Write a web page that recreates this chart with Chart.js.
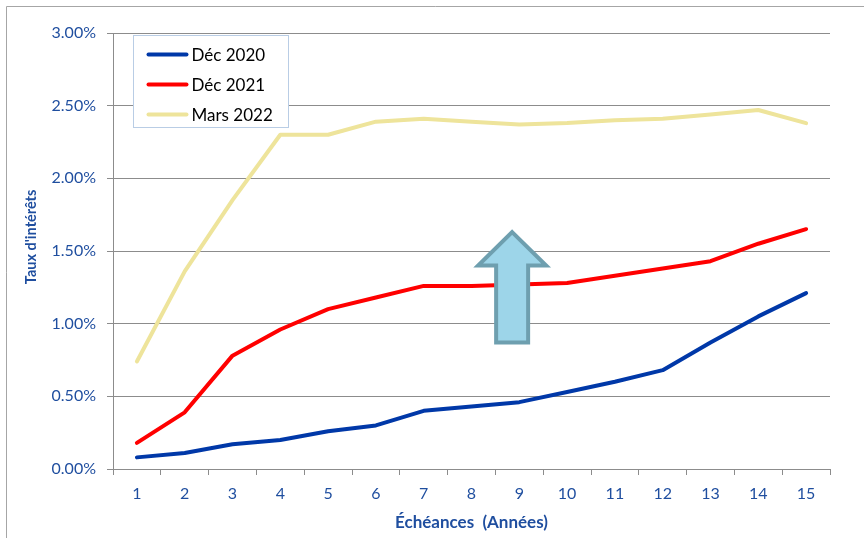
<!DOCTYPE html>
<html><head><meta charset="utf-8">
<script src="https://cdn.jsdelivr.net/npm/chart.js@4/dist/chart.umd.min.js"></script>
<style>html,body{margin:0;padding:0;background:#fff;}#wrap{width:864px;height:538px;position:relative;}</style>
</head><body><div id="wrap"><canvas id="c" width="864" height="538"></canvas></div>
<script>
const categories = ['1','2','3','4','5','6','7','8','9','10','11','12','13','14','15'];
const dec2020 = [0.08,0.11,0.17,0.20,0.26,0.30,0.40,0.43,0.46,0.53,0.60,0.68,0.87,1.05,1.21];
const dec2021 = [0.18,0.39,0.78,0.96,1.10,1.18,1.26,1.26,1.27,1.28,1.33,1.38,1.43,1.55,1.65];
const mars2022 = [0.74,1.36,1.85,2.30,2.30,2.39,2.41,2.39,2.37,2.38,2.40,2.41,2.44,2.47,2.38];
const seriesLabels = ['Déc 2020','Déc 2021','Mars 2022'];
const yTicks = [0,0.5,1,1.5,2,2.5,3];
// arrow annotation (category index, values in %)
const arrowX = 7.85, arrowTip = 1.63, arrowHeadBase = 1.40, arrowBottom = 0.87;

const BLUE_TXT = '#1F4E9F';
const GRID = '#8C8C8C';
const FONT = 'Lato, "Open Sans", sans-serif';

const framePlugin = {
  id:'frame',
  beforeDraw(chart){
    const ctx = chart.ctx;
    ctx.save();
    ctx.fillStyle='#fff'; ctx.fillRect(0,0,chart.width,chart.height);
    ctx.strokeStyle='#A6A6A6'; ctx.lineWidth=1;
    ctx.beginPath(); ctx.moveTo(6.5,538); ctx.lineTo(6.5,6.5); ctx.lineTo(864,6.5); ctx.stroke();
    ctx.restore();
  }
};
const arrowPlugin = {
  id:'arrow',
  afterDatasetsDraw(chart){
    const x = chart.scales.x, y = chart.scales.y, ctx = chart.ctx;
    const cx = x.getPixelForValue(arrowX);
    const tip = y.getPixelForValue(arrowTip), hb = y.getPixelForValue(arrowHeadBase), bot = y.getPixelForValue(arrowBottom);
    const hw = 34, sw = 16;
    ctx.save();
    ctx.beginPath();
    ctx.moveTo(cx, tip);
    ctx.lineTo(cx+hw, hb); ctx.lineTo(cx+sw, hb); ctx.lineTo(cx+sw, bot);
    ctx.lineTo(cx-sw, bot); ctx.lineTo(cx-sw, hb); ctx.lineTo(cx-hw, hb);
    ctx.closePath();
    ctx.fillStyle='#9DD5E9'; ctx.fill();
    ctx.strokeStyle='#6E9FAF'; ctx.lineWidth=4; ctx.lineJoin='miter'; ctx.stroke();
    ctx.restore();
  }
};
const legendPlugin = {
  id:'customLegend',
  afterDraw(chart){
    const ctx = chart.ctx, a = chart.chartArea;
    const bx = a.left+20.5, by = a.top+2.5, bw = 155, bh = 92;
    ctx.save();
    ctx.fillStyle='#fff'; ctx.fillRect(bx,by,bw,bh);
    ctx.strokeStyle='#B9CDE5'; ctx.lineWidth=1; ctx.strokeRect(bx,by,bw,bh);
    const rows = [19,49,79];
    ctx.font = '17px '+FONT; ctx.textBaseline='middle'; ctx.textAlign='left';
    chart.data.datasets.forEach((ds,i)=>{
      const yy = by+rows[i];
      ctx.strokeStyle = ds.borderColor; ctx.lineWidth=4; ctx.lineCap='round';
      ctx.beginPath(); ctx.moveTo(bx+15, yy); ctx.lineTo(bx+53, yy); ctx.stroke();
      ctx.fillStyle='#000'; ctx.fillText(ds.label, bx+58, yy+1);
    });
    ctx.restore();
  }
};

new Chart(document.getElementById('c'), {
  type:'line',
  data:{
    labels: categories,
    datasets:[
      {label:seriesLabels[0], data:dec2020, borderColor:'#0038A8', borderWidth:4},
      {label:seriesLabels[1], data:dec2021, borderColor:'#FF0000', borderWidth:4},
      {label:seriesLabels[2], data:mars2022, borderColor:'#EEE49B', borderWidth:4}
    ]
  },
  options:{
    responsive:false, animation:false, devicePixelRatio:1,
    layout:{padding:{left:0, top:33, right:34, bottom:0}},
    elements:{point:{radius:0}, line:{tension:0, borderJoinStyle:'round', borderCapStyle:'round'}},
    plugins:{legend:{display:false}, tooltip:{enabled:false}},
    scales:{
      x:{
        offset:true,
        afterFit(s){ s.height = 69; },
        grid:{display:true, drawOnChartArea:false, drawTicks:true, tickLength:6, color:GRID, offset:true},
        border:{color:GRID, width:1},
        ticks:{color:BLUE_TXT, font:{family:FONT, size:16}, padding:9, maxRotation:0},
        title:{display:true, text:'Échéances  (Années)', color:BLUE_TXT, font:{family:FONT, size:17, weight:'bold'}, padding:{top:0,bottom:5}}
      },
      y:{
        min:0, max:3,
        afterFit(s){ s.width = 113; },
        afterBuildTicks(s){ s.ticks = yTicks.map(v=>({value:v})); },
        grid:{color:GRID, tickLength:6, drawTicks:true},
        border:{color:GRID, width:1},
        ticks:{color:BLUE_TXT, font:{family:FONT, size:16}, padding:11, callback:v=>Number(v).toFixed(2)+'%'},
        title:{display:true, text:"        Taux d'intérêts", color:BLUE_TXT, font:{family:FONT, size:14.5, weight:'bold'}, padding:{top:23,bottom:0}}
      }
    }
  },
  plugins:[framePlugin, arrowPlugin, legendPlugin]
});
</script></body></html>
